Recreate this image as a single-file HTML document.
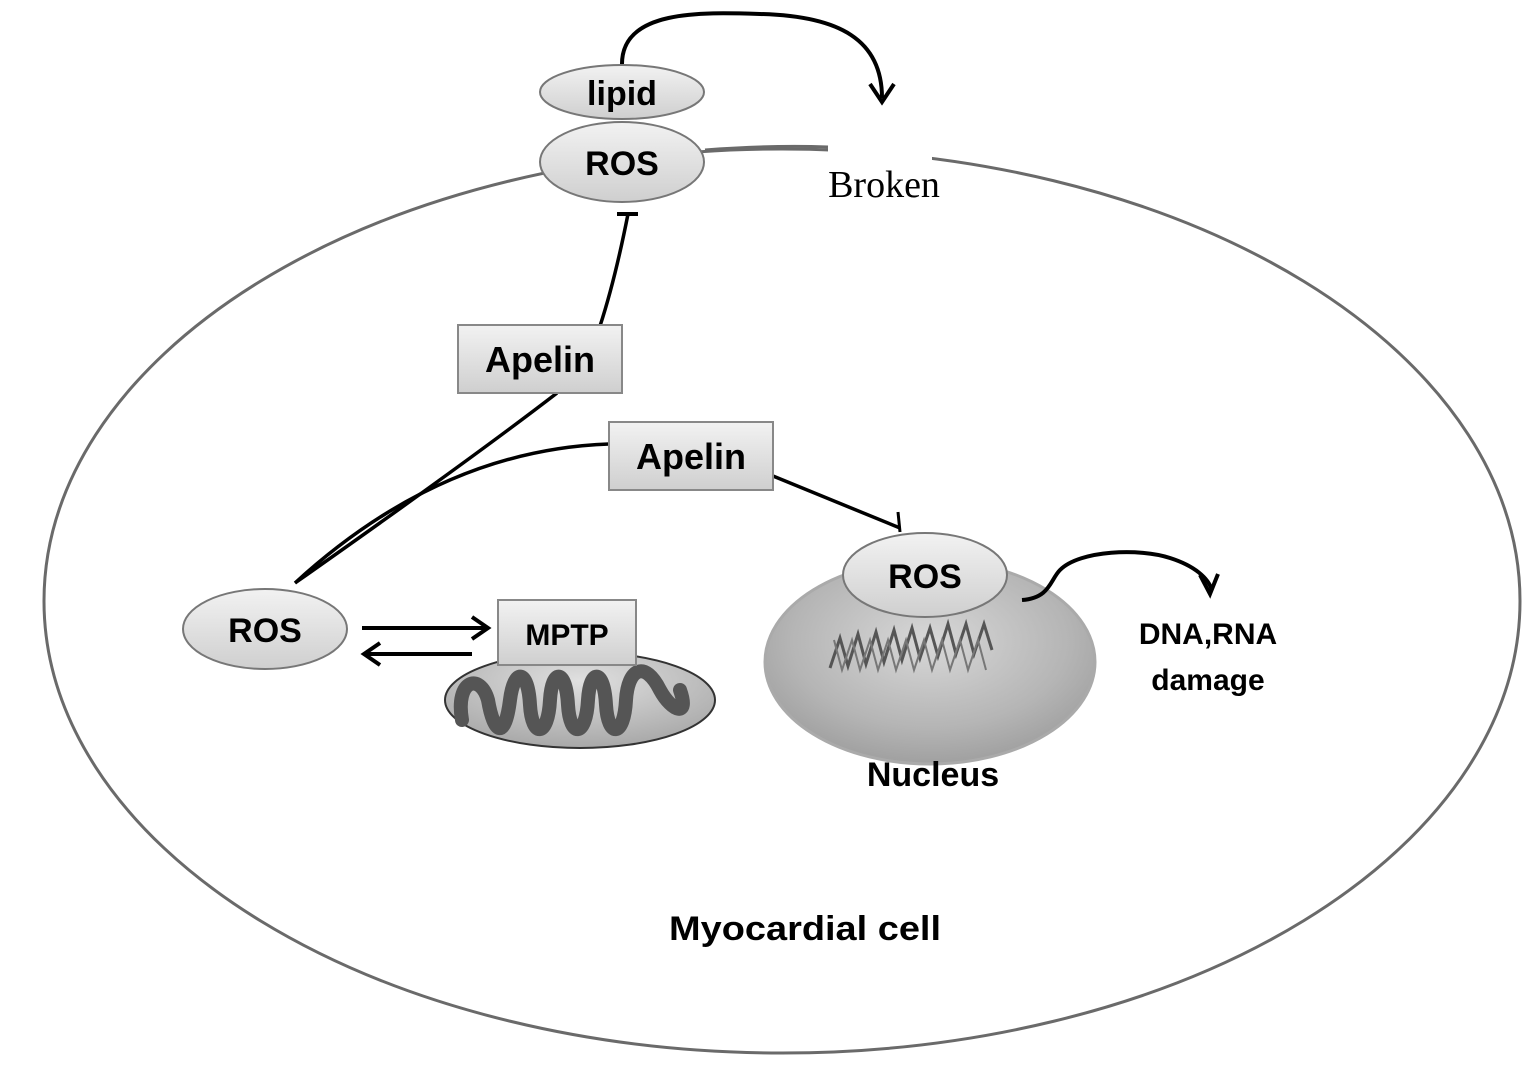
<!DOCTYPE html>
<html><head><meta charset="utf-8"><style>html,body{margin:0;padding:0;background:#fff}svg{display:block}</style></head>
<body>
<svg width="1535" height="1073" viewBox="0 0 1535 1073" xmlns="http://www.w3.org/2000/svg">
<defs>
<linearGradient id="g" x1="0" y1="0" x2="0" y2="1"><stop offset="0" stop-color="#f2f2f2"/><stop offset="1" stop-color="#cfcfcf"/></linearGradient>
<radialGradient id="nuc" cx="0.5" cy="0.4" r="0.6"><stop offset="0" stop-color="#d8d8d8"/><stop offset="0.7" stop-color="#b5b5b5"/><stop offset="1" stop-color="#a0a0a0"/></radialGradient>
<radialGradient id="mito" cx="0.5" cy="0.3" r="0.7"><stop offset="0" stop-color="#e0e0e0"/><stop offset="1" stop-color="#a8a8a8"/></radialGradient>
</defs>
<g font-family="'Liberation Sans', sans-serif" font-weight="bold" text-anchor="middle">
<!-- cell membrane -->
<ellipse cx="782" cy="601" rx="738" ry="452" fill="none" stroke="#6a6a6a" stroke-width="3"/>
<rect x="828" y="138" width="104" height="30" fill="#fff"/>
<path d="M705,150 Q770,145 828,147" fill="none" stroke="#6a6a6a" stroke-width="3"/>
<!-- top arc arrow -->
<path d="M622,64 C622,10 700,12 760,14 C840,16 882,40 882,98" fill="none" stroke="#000" stroke-width="4"/>
<path d="M870,84 L882,102 L894,84" fill="none" stroke="#000" stroke-width="4"/>
<!-- lipid / ROS -->
<ellipse cx="622" cy="92" rx="82" ry="27" fill="url(#g)" stroke="#777" stroke-width="2"/>
<text x="622" y="105" font-size="34">lipid</text>
<ellipse cx="622" cy="162" rx="82" ry="40" fill="url(#g)" stroke="#777" stroke-width="2"/>
<text x="622" y="175" font-size="34">ROS</text>
<text x="884" y="197" font-family="'Liberation Serif', serif" font-weight="normal" font-size="38">Broken</text>
<!-- inhibit to top ROS -->
<path d="M600,326 Q615,280 628,214" fill="none" stroke="#000" stroke-width="3.5"/>
<line x1="617" y1="214" x2="638" y2="214" stroke="#000" stroke-width="4"/>
<!-- lines from left ROS -->
<path d="M295,583 Q470,460 557,393" fill="none" stroke="#000" stroke-width="3.5"/>
<path d="M295,583 Q440,450 609,444" fill="none" stroke="#000" stroke-width="3.5"/>
<path d="M773,476 L900,528" fill="none" stroke="#000" stroke-width="3.5"/>
<line x1="898" y1="512" x2="900" y2="532" stroke="#000" stroke-width="3"/>
<!-- Apelin boxes -->
<rect x="458" y="325" width="164" height="68" fill="url(#g)" stroke="#888" stroke-width="2"/>
<text x="540" y="372" font-size="36">Apelin</text>
<rect x="609" y="422" width="164" height="68" fill="url(#g)" stroke="#888" stroke-width="2"/>
<text x="691" y="469" font-size="36">Apelin</text>
<!-- left ROS -->
<ellipse cx="265" cy="629" rx="82" ry="40" fill="url(#g)" stroke="#777" stroke-width="2"/>
<text x="265" y="642" font-size="34">ROS</text>
<line x1="362" y1="628" x2="486" y2="628" stroke="#000" stroke-width="4"/>
<path d="M472,617 L488,628 L472,639" fill="none" stroke="#000" stroke-width="4"/>
<line x1="366" y1="654" x2="472" y2="654" stroke="#000" stroke-width="4"/>
<path d="M380,643 L364,654 L380,665" fill="none" stroke="#000" stroke-width="4"/>
<!-- mitochondria -->
<ellipse cx="580" cy="700" rx="135" ry="48" fill="url(#mito)" stroke="#333" stroke-width="2"/>
<path d="M462,720 C455,680 480,672 488,700 C494,735 505,740 510,700 C514,668 528,668 530,705 C532,738 548,738 550,700 C552,668 566,668 568,705 C570,738 586,738 588,700 C590,668 604,668 606,705 C608,738 624,738 626,700 C628,668 645,660 660,690 C672,712 690,718 680,690" fill="none" stroke="#555" stroke-width="14" stroke-linecap="round"/>
<rect x="498" y="600" width="138" height="65" fill="url(#g)" stroke="#888" stroke-width="2"/>
<text x="567" y="645" font-size="30">MPTP</text>
<!-- nucleus -->
<ellipse cx="930" cy="662" rx="165" ry="102" fill="url(#nuc)" stroke="#aaa" stroke-width="3"/>
<path d="M830,668 l10,-30 l8,28 l10,-32 l8,30 l10,-32 l8,30 l10,-32 l8,30 l10,-32 l8,30 l10,-30 l8,28 l10,-32 l8,30 l10,-30 l8,30 l10,-30 l8,26" fill="none" stroke="#555" stroke-width="3"/>
<path d="M834,640 l8,30 l10,-30 l8,30 l10,-30 l8,30 l10,-30 l8,30 l10,-30 l8,30 l10,-30 l8,30 l10,-30 l8,30 l10,-30 l8,30 l10,-30 l8,30" fill="none" stroke="#777" stroke-width="2"/>
<ellipse cx="925" cy="575" rx="82" ry="42" fill="url(#g)" stroke="#777" stroke-width="2"/>
<text x="925" y="588" font-size="34">ROS</text>
<path d="M1022,600 C1050,598 1050,580 1060,570 C1080,550 1140,548 1170,558 C1195,566 1208,578 1212,590" fill="none" stroke="#000" stroke-width="4"/>
<path d="M1200,575 L1210,594 L1218,574" fill="none" stroke="#000" stroke-width="4"/>
<text x="1208" y="644" font-size="30">DNA,RNA</text>
<text x="1208" y="690" font-size="30">damage</text>
<text x="933" y="786" font-size="34">Nucleus</text>
<text x="805" y="940" font-size="34" textLength="272" lengthAdjust="spacingAndGlyphs">Myocardial cell</text>
</g>
</svg>
</body></html>
